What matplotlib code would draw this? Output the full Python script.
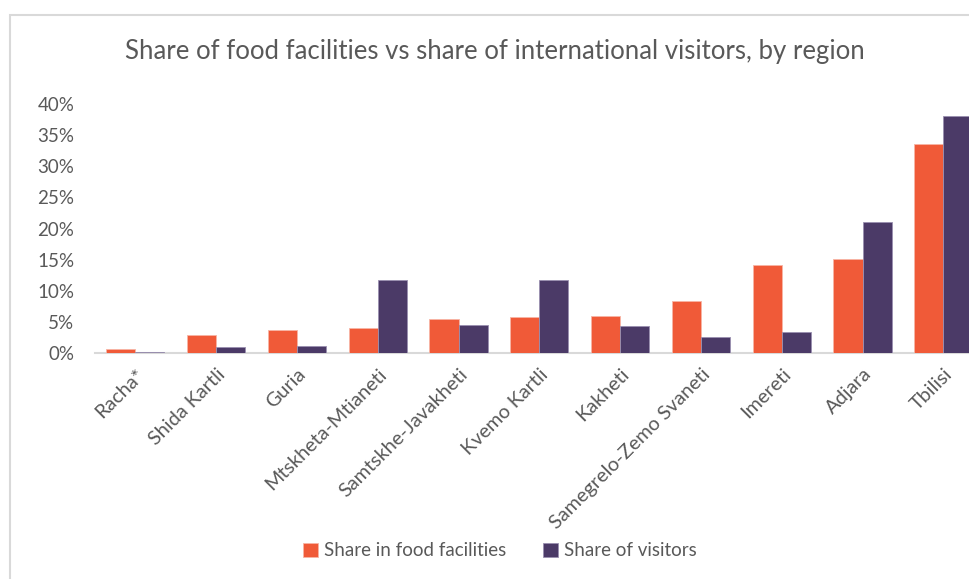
import matplotlib
matplotlib.use("Agg")
import matplotlib.pyplot as plt
from matplotlib.patches import Rectangle
from matplotlib.ticker import PercentFormatter
import numpy as np

regions = ["Racha*", "Shida Kartli", "Guria", "Mtskheta-Mtianeti", "Samtskhe-Javakheti",
           "Kvemo Kartli", "Kakheti", "Samegrelo-Zemo Svaneti", "Imereti", "Adjara", "Tbilisi"]
food_share = [0.7, 2.85, 3.7, 4.0, 5.4, 5.75, 5.9, 8.4, 14.1, 15.1, 33.6]
visitor_share = [0.2, 0.9, 1.1, 11.7, 4.55, 11.8, 4.4, 2.6, 3.3, 21.0, 38.0]
yticks = [0, 5, 10, 15, 20, 25, 30, 35, 40]

orange = "#F05A38"
purple = "#4B3A67"
text_col = "#595959"

plt.rcParams['font.family'] = ['Lato', 'DejaVu Sans']

W, H = 970, 579
fig = plt.figure(figsize=(W / 100, H / 100), dpi=100)

# chart area border (cropped on right/bottom)
fig.patches.append(Rectangle((10 / W, -0.1), 1.2, 1.1 - 15 / H, transform=fig.transFigure,
                             fill=False, edgecolor="#D9D9D9", linewidth=1.5))

ax = fig.add_axes([95 / W, (H - 353) / H, 888.7 / W, 249 / H])
x = np.arange(len(regions))
bw = 0.36
ax.bar(x - bw / 2, food_share, bw, color=orange, edgecolor="#F7B5A5", linewidth=0.6,
       label="Share in food facilities", zorder=3)
ax.bar(x + bw / 2, visitor_share, bw, color=purple, edgecolor="#9A8FB0", linewidth=0.6,
       label="Share of visitors", zorder=3)

ax.set_xlim(-0.5, len(regions) - 0.5)
ax.set_ylim(0, 40)
ax.set_yticks(yticks)
ax.yaxis.set_major_formatter(PercentFormatter(decimals=0))
for s in ["top", "right", "left"]:
    ax.spines[s].set_visible(False)
ax.spines["bottom"].set_color("#D9D9D9")
ax.spines["bottom"].set_linewidth(1.5)
ax.spines["bottom"].set_zorder(1)
ax.tick_params(axis="both", length=0, colors=text_col, labelsize=13.5)
ax.tick_params(axis="y", pad=15)
ax.set_xticks(x)
ax.set_xticklabels(regions, rotation=45, ha="right", va="top", rotation_mode="anchor",
                   fontsize=14.3)
ax.tick_params(axis="x", pad=9)

fig.text(495 / W, 1 - 52 / H, "Share of food facilities vs share of international visitors, by region",
         ha="center", va="center", fontsize=18.5, color=text_col)

fig.legend(loc="center", bbox_to_anchor=(500 / W, 1 - 551 / H), ncol=2, frameon=False,
           fontsize=13.5, labelcolor=text_col, handlelength=0.8, handleheight=0.8,
           handletextpad=0.3, columnspacing=2.0)

fig.savefig("out.png", dpi=100)
